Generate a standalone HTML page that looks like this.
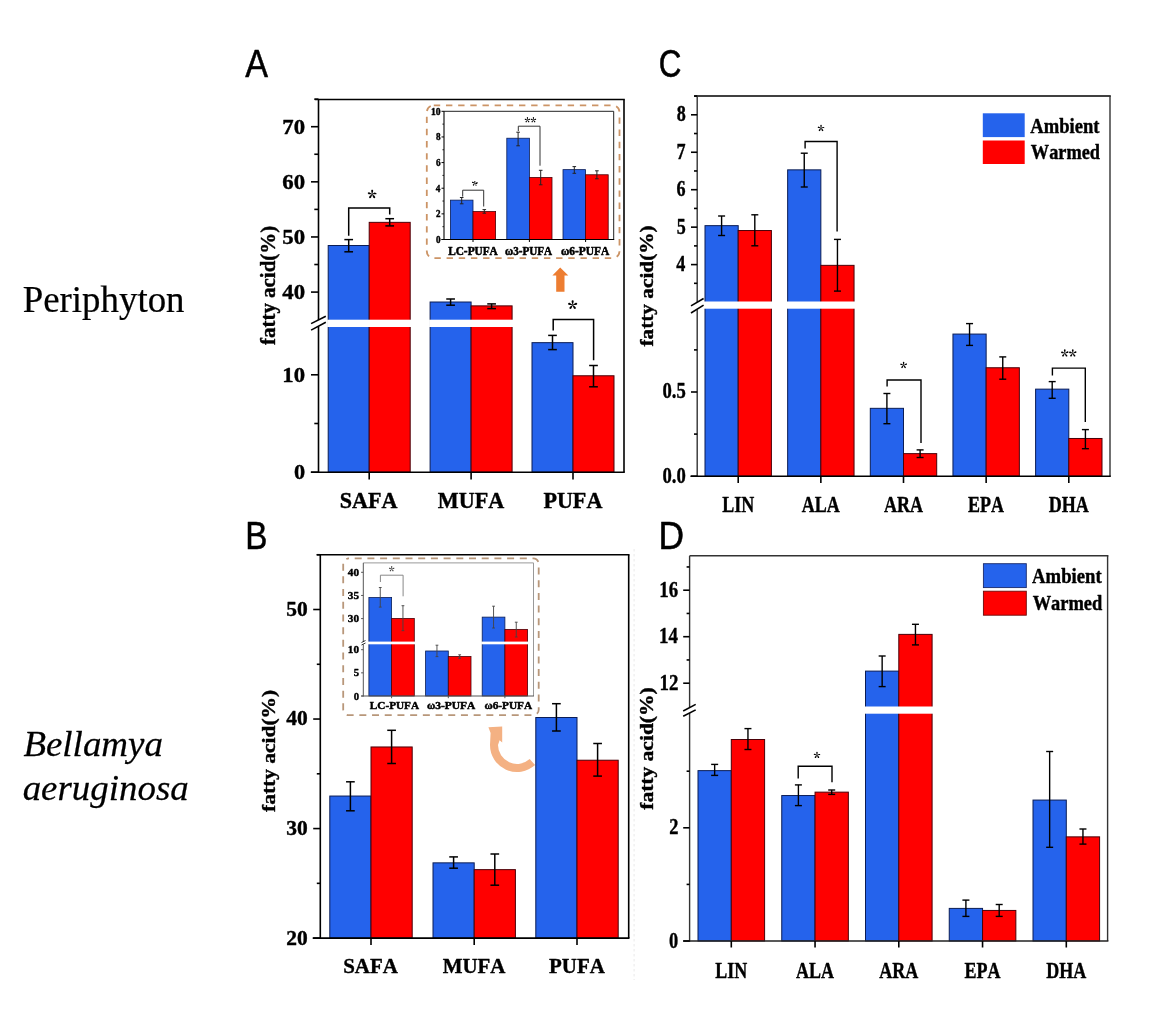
<!DOCTYPE html>
<html><head><meta charset="utf-8"><title>Fatty acid figure</title>
<style>
html,body{margin:0;padding:0;background:#fff;overflow:hidden;}
svg{display:block;will-change:transform;}
text{font-kerning:none;}
</style></head><body>
<svg width="1158" height="1019" viewBox="0 0 1158 1019">
<rect width="1158" height="1019" fill="#fff"/>
<text transform="translate(22.66,311.60) scale(0.9836,1)" font-size="37.5" font-weight="normal" font-style="normal" font-family='"Liberation Serif", serif' fill="#000" stroke="#000" stroke-width="0.25" stroke-linejoin="round">Periphyton</text>
<text transform="translate(23.38,755.50) scale(1.0099,1)" font-size="36.6" font-weight="normal" font-style="italic" font-family='"Liberation Serif", serif' fill="#000" stroke="#000" stroke-width="0.25" stroke-linejoin="round">Bellamya</text>
<text transform="translate(22.63,799.70) scale(1.0087,1)" font-size="36.6" font-weight="normal" font-style="italic" font-family='"Liberation Serif", serif' fill="#000" stroke="#000" stroke-width="0.25" stroke-linejoin="round">aeruginosa</text>
<text transform="translate(245.31,77.10) scale(0.8759,1)" font-size="39.0" font-weight="normal" font-style="normal" font-family='"Liberation Sans", sans-serif' fill="#000" stroke="#000" stroke-width="0.55" stroke-linejoin="round">A</text>
<text transform="translate(245.15,548.90) scale(0.8547,1)" font-size="38.8" font-weight="normal" font-style="normal" font-family='"Liberation Sans", sans-serif' fill="#000" stroke="#000" stroke-width="0.55" stroke-linejoin="round">B</text>
<text transform="translate(658.78,76.80) scale(0.8205,1)" font-size="38.2" font-weight="normal" font-style="normal" font-family='"Liberation Sans", sans-serif' fill="#000" stroke="#000" stroke-width="0.55" stroke-linejoin="round">C</text>
<text transform="translate(658.57,548.80) scale(0.9260,1)" font-size="38.2" font-weight="normal" font-style="normal" font-family='"Liberation Sans", sans-serif' fill="#000" stroke="#000" stroke-width="0.55" stroke-linejoin="round">D</text>
<rect x="328.20" y="245.51" width="41.00" height="226.69" fill="#2563EC" stroke="#0b1d55" stroke-width="1.0"/>
<rect x="369.20" y="222.35" width="41.00" height="249.85" fill="#FF0000" stroke="#4a0008" stroke-width="1.0"/>
<rect x="430.10" y="302.01" width="41.00" height="170.19" fill="#2563EC" stroke="#0b1d55" stroke-width="1.0"/>
<rect x="471.10" y="305.87" width="41.00" height="166.33" fill="#FF0000" stroke="#4a0008" stroke-width="1.0"/>
<rect x="532.00" y="342.66" width="41.00" height="129.54" fill="#2563EC" stroke="#0b1d55" stroke-width="1.0"/>
<rect x="573.00" y="375.77" width="41.00" height="96.43" fill="#FF0000" stroke="#4a0008" stroke-width="1.0"/>
<rect x="327.20" y="319.70" width="84.00" height="7.30" fill="#fff"/>
<rect x="429.10" y="319.70" width="84.00" height="7.30" fill="#fff"/>
<line x1="348.70" y1="239.60" x2="348.70" y2="251.80" stroke="#000" stroke-width="1.5" />
<line x1="344.35" y1="239.60" x2="353.05" y2="239.60" stroke="#000" stroke-width="1.5" />
<line x1="344.35" y1="251.80" x2="353.05" y2="251.80" stroke="#000" stroke-width="1.5" />
<line x1="389.70" y1="218.70" x2="389.70" y2="225.90" stroke="#000" stroke-width="1.5" />
<line x1="385.35" y1="218.70" x2="394.05" y2="218.70" stroke="#000" stroke-width="1.5" />
<line x1="385.35" y1="225.90" x2="394.05" y2="225.90" stroke="#000" stroke-width="1.5" />
<line x1="450.60" y1="299.00" x2="450.60" y2="305.20" stroke="#000" stroke-width="1.5" />
<line x1="446.25" y1="299.00" x2="454.95" y2="299.00" stroke="#000" stroke-width="1.5" />
<line x1="446.25" y1="305.20" x2="454.95" y2="305.20" stroke="#000" stroke-width="1.5" />
<line x1="491.60" y1="303.90" x2="491.60" y2="308.60" stroke="#000" stroke-width="1.5" />
<line x1="487.25" y1="303.90" x2="495.95" y2="303.90" stroke="#000" stroke-width="1.5" />
<line x1="487.25" y1="308.60" x2="495.95" y2="308.60" stroke="#000" stroke-width="1.5" />
<line x1="552.50" y1="335.40" x2="552.50" y2="349.60" stroke="#000" stroke-width="1.5" />
<line x1="548.15" y1="335.40" x2="556.85" y2="335.40" stroke="#000" stroke-width="1.5" />
<line x1="548.15" y1="349.60" x2="556.85" y2="349.60" stroke="#000" stroke-width="1.5" />
<line x1="593.50" y1="365.50" x2="593.50" y2="386.80" stroke="#000" stroke-width="1.5" />
<line x1="589.15" y1="365.50" x2="597.85" y2="365.50" stroke="#000" stroke-width="1.5" />
<line x1="589.15" y1="386.80" x2="597.85" y2="386.80" stroke="#000" stroke-width="1.5" />
<polyline points="348.70,235.70 348.70,208.00 389.70,208.00 389.70,214.50" fill="none" stroke="#000" stroke-width="1.5" stroke-linejoin="miter"/>
<polyline points="553.20,330.50 553.20,319.50 593.60,319.50 593.60,360.20" fill="none" stroke="#000" stroke-width="1.5" stroke-linejoin="miter"/>
<text x="367.62" y="205.85" font-size="19.11" font-weight="900" font-family="'Noto Serif CJK SC', serif" fill="#000">*</text>
<line x1="314.80" y1="99.50" x2="624.80" y2="99.50" stroke="#000" stroke-width="1.6" />
<line x1="624.00" y1="99.50" x2="624.00" y2="472.20" stroke="#000" stroke-width="1.6" />
<line x1="318.50" y1="99.50" x2="318.50" y2="319.90" stroke="#000" stroke-width="1.6" />
<line x1="318.50" y1="326.20" x2="318.50" y2="473.00" stroke="#000" stroke-width="1.6" />
<line x1="634.1" y1="549" x2="634.1" y2="980" stroke="#ececec" stroke-width="1.1" stroke-dasharray="2.5 2.5"/>
<line x1="310.80" y1="472.20" x2="624.80" y2="472.20" stroke="#000" stroke-width="1.6" />
<line x1="311.10" y1="323.60" x2="325.80" y2="316.30" stroke="#000" stroke-width="1.6" />
<line x1="311.10" y1="330.10" x2="325.80" y2="322.30" stroke="#000" stroke-width="1.6" />
<line x1="311.00" y1="292.09" x2="318.50" y2="292.09" stroke="#000" stroke-width="1.6" />
<line x1="311.00" y1="236.96" x2="318.50" y2="236.96" stroke="#000" stroke-width="1.6" />
<line x1="311.00" y1="181.83" x2="318.50" y2="181.83" stroke="#000" stroke-width="1.6" />
<line x1="311.00" y1="126.70" x2="318.50" y2="126.70" stroke="#000" stroke-width="1.6" />
<line x1="314.30" y1="264.52" x2="318.50" y2="264.52" stroke="#000" stroke-width="1.6" />
<line x1="314.30" y1="209.39" x2="318.50" y2="209.39" stroke="#000" stroke-width="1.6" />
<line x1="314.30" y1="154.26" x2="318.50" y2="154.26" stroke="#000" stroke-width="1.6" />
<line x1="314.30" y1="99.14" x2="318.50" y2="99.14" stroke="#000" stroke-width="1.6" />
<line x1="311.00" y1="472.20" x2="318.50" y2="472.20" stroke="#000" stroke-width="1.6" />
<line x1="311.00" y1="374.80" x2="318.50" y2="374.80" stroke="#000" stroke-width="1.6" />
<line x1="314.30" y1="423.50" x2="318.50" y2="423.50" stroke="#000" stroke-width="1.6" />
<line x1="369.20" y1="472.20" x2="369.20" y2="479.40" stroke="#000" stroke-width="1.6" />
<line x1="471.10" y1="472.20" x2="471.10" y2="479.40" stroke="#000" stroke-width="1.6" />
<line x1="573.00" y1="472.20" x2="573.00" y2="479.40" stroke="#000" stroke-width="1.6" />
<text transform="translate(282.28,299.09) scale(1.0358,1)" font-size="22" font-weight="bold" font-style="normal" font-family='"Liberation Serif", serif' fill="#000" stroke="#000" stroke-width="0.4" stroke-linejoin="round">40</text>
<text transform="translate(282.29,243.96) scale(1.0353,1)" font-size="22" font-weight="bold" font-style="normal" font-family='"Liberation Serif", serif' fill="#000" stroke="#000" stroke-width="0.4" stroke-linejoin="round">50</text>
<text transform="translate(282.29,188.83) scale(1.0354,1)" font-size="22" font-weight="bold" font-style="normal" font-family='"Liberation Serif", serif' fill="#000" stroke="#000" stroke-width="0.4" stroke-linejoin="round">60</text>
<text transform="translate(282.30,133.70) scale(1.0349,1)" font-size="22" font-weight="bold" font-style="normal" font-family='"Liberation Serif", serif' fill="#000" stroke="#000" stroke-width="0.4" stroke-linejoin="round">70</text>
<text transform="translate(282.31,381.80) scale(1.0344,1)" font-size="22" font-weight="bold" font-style="normal" font-family='"Liberation Serif", serif' fill="#000" stroke="#000" stroke-width="0.4" stroke-linejoin="round">10</text>
<text transform="translate(293.91,479.20) scale(1.0121,1)" font-size="22" font-weight="bold" font-style="normal" font-family='"Liberation Serif", serif' fill="#000" stroke="#000" stroke-width="0.4" stroke-linejoin="round">0</text>
<text transform="translate(339.81,508.00) scale(0.9830,1)" font-size="22.5" font-weight="bold" font-style="normal" font-family='"Liberation Serif", serif' fill="#000" stroke="#000" stroke-width="0.4" stroke-linejoin="round">SAFA</text>
<text transform="translate(437.79,508.00) scale(0.9840,1)" font-size="22.5" font-weight="bold" font-style="normal" font-family='"Liberation Serif", serif' fill="#000" stroke="#000" stroke-width="0.4" stroke-linejoin="round">MUFA</text>
<text transform="translate(543.40,508.00) scale(0.9833,1)" font-size="22.5" font-weight="bold" font-style="normal" font-family='"Liberation Serif", serif' fill="#000" stroke="#000" stroke-width="0.4" stroke-linejoin="round">PUFA</text>
<text transform="translate(275.00,344.95) rotate(-90) scale(1.0212,1)" font-size="20.5" font-weight="bold" font-style="normal" font-family='"Liberation Serif", serif' stroke="#000" stroke-width="0.4" stroke-linejoin="round">fatty acid(%)</text>
<text x="567.70" y="316.70" font-size="20.00" font-weight="900" font-family="'Noto Serif CJK SC', serif" fill="#000">*</text>
<polygon points="560.2,267.4 568.3,275.4 564.5,275.4 564.5,291.8 556.2,291.8 556.2,275.4 552.4,275.4" fill="#ED7D31"/>
<rect x="426.8" y="105.3" width="192.7" height="152.9" rx="7" ry="7" fill="none" stroke="#CC9466" stroke-width="1.8" stroke-dasharray="6.4 5.77"/>
<rect x="450.40" y="200.14" width="22.60" height="39.36" fill="#2563EC" stroke="#0b1d55" stroke-width="0.8"/>
<rect x="473.00" y="211.55" width="22.60" height="27.95" fill="#FF0000" stroke="#4a0008" stroke-width="0.8"/>
<rect x="506.80" y="138.22" width="22.60" height="101.28" fill="#2563EC" stroke="#0b1d55" stroke-width="0.8"/>
<rect x="529.40" y="177.45" width="22.60" height="62.05" fill="#FF0000" stroke="#4a0008" stroke-width="0.8"/>
<rect x="563.00" y="169.63" width="22.60" height="69.87" fill="#2563EC" stroke="#0b1d55" stroke-width="0.8"/>
<rect x="585.60" y="174.76" width="22.60" height="64.74" fill="#FF0000" stroke="#4a0008" stroke-width="0.8"/>
<line x1="461.70" y1="197.50" x2="461.70" y2="203.80" stroke="#222" stroke-width="1.0" />
<line x1="459.90" y1="197.50" x2="463.50" y2="197.50" stroke="#222" stroke-width="1.0" />
<line x1="459.90" y1="203.80" x2="463.50" y2="203.80" stroke="#222" stroke-width="1.0" />
<line x1="484.30" y1="209.60" x2="484.30" y2="213.20" stroke="#222" stroke-width="1.0" />
<line x1="482.50" y1="209.60" x2="486.10" y2="209.60" stroke="#222" stroke-width="1.0" />
<line x1="482.50" y1="213.20" x2="486.10" y2="213.20" stroke="#222" stroke-width="1.0" />
<line x1="518.10" y1="132.20" x2="518.10" y2="145.80" stroke="#222" stroke-width="1.0" />
<line x1="516.30" y1="132.20" x2="519.90" y2="132.20" stroke="#222" stroke-width="1.0" />
<line x1="516.30" y1="145.80" x2="519.90" y2="145.80" stroke="#222" stroke-width="1.0" />
<line x1="540.70" y1="170.30" x2="540.70" y2="184.80" stroke="#222" stroke-width="1.0" />
<line x1="538.90" y1="170.30" x2="542.50" y2="170.30" stroke="#222" stroke-width="1.0" />
<line x1="538.90" y1="184.80" x2="542.50" y2="184.80" stroke="#222" stroke-width="1.0" />
<line x1="574.30" y1="166.60" x2="574.30" y2="173.30" stroke="#222" stroke-width="1.0" />
<line x1="572.50" y1="166.60" x2="576.10" y2="166.60" stroke="#222" stroke-width="1.0" />
<line x1="572.50" y1="173.30" x2="576.10" y2="173.30" stroke="#222" stroke-width="1.0" />
<line x1="596.90" y1="170.80" x2="596.90" y2="178.80" stroke="#222" stroke-width="1.0" />
<line x1="595.10" y1="170.80" x2="598.70" y2="170.80" stroke="#222" stroke-width="1.0" />
<line x1="595.10" y1="178.80" x2="598.70" y2="178.80" stroke="#222" stroke-width="1.0" />
<polyline points="462.70,196.60 462.70,190.20 483.70,190.20 483.70,206.50" fill="none" stroke="#333" stroke-width="1.0" stroke-linejoin="miter"/>
<polyline points="518.30,131.00 518.30,126.20 540.00,126.20 540.00,165.70" fill="none" stroke="#333" stroke-width="1.0" stroke-linejoin="miter"/>
<text x="471.75" y="191.25" font-size="12.44" font-weight="900" font-family="'Noto Serif CJK SC', serif" fill="#000">*</text>
<text x="524.62" y="127.48" font-size="12.00" font-weight="900" font-family="'Noto Serif CJK SC', serif" fill="#000">**</text>
<line x1="444.00" y1="111.30" x2="613.70" y2="111.30" stroke="#222" stroke-width="1.0" />
<line x1="613.70" y1="111.30" x2="613.70" y2="239.50" stroke="#222" stroke-width="1.0" />
<line x1="444.00" y1="111.30" x2="444.00" y2="240.00" stroke="#000" stroke-width="1.1" />
<line x1="441.50" y1="239.50" x2="614.20" y2="239.50" stroke="#000" stroke-width="1.2" />
<line x1="441.50" y1="239.50" x2="444.00" y2="239.50" stroke="#000" stroke-width="1.0" />
<text transform="translate(435.98,242.80) scale(0.9517,1)" font-size="9.6" font-weight="bold" font-style="normal" font-family='"Liberation Serif", serif' fill="#000" stroke="#000" stroke-width="0.4" stroke-linejoin="round">0</text>
<line x1="441.50" y1="213.86" x2="444.00" y2="213.86" stroke="#000" stroke-width="1.0" />
<text transform="translate(436.03,217.16) scale(0.9496,1)" font-size="9.6" font-weight="bold" font-style="normal" font-family='"Liberation Serif", serif' fill="#000" stroke="#000" stroke-width="0.4" stroke-linejoin="round">2</text>
<line x1="441.50" y1="188.22" x2="444.00" y2="188.22" stroke="#000" stroke-width="1.0" />
<text transform="translate(435.76,191.52) scale(0.9609,1)" font-size="9.6" font-weight="bold" font-style="normal" font-family='"Liberation Serif", serif' fill="#000" stroke="#000" stroke-width="0.4" stroke-linejoin="round">4</text>
<line x1="441.50" y1="162.58" x2="444.00" y2="162.58" stroke="#000" stroke-width="1.0" />
<text transform="translate(435.89,165.88) scale(0.9545,1)" font-size="9.6" font-weight="bold" font-style="normal" font-family='"Liberation Serif", serif' fill="#000" stroke="#000" stroke-width="0.4" stroke-linejoin="round">6</text>
<line x1="441.50" y1="136.94" x2="444.00" y2="136.94" stroke="#000" stroke-width="1.0" />
<text transform="translate(435.93,140.24) scale(0.9539,1)" font-size="9.6" font-weight="bold" font-style="normal" font-family='"Liberation Serif", serif' fill="#000" stroke="#000" stroke-width="0.4" stroke-linejoin="round">8</text>
<line x1="441.50" y1="111.30" x2="444.00" y2="111.30" stroke="#000" stroke-width="1.0" />
<text transform="translate(430.94,114.60) scale(1.0028,1)" font-size="9.6" font-weight="bold" font-style="normal" font-family='"Liberation Serif", serif' fill="#000" stroke="#000" stroke-width="0.4" stroke-linejoin="round">10</text>
<line x1="442.40" y1="226.68" x2="444.00" y2="226.68" stroke="#000" stroke-width="0.8" />
<line x1="442.40" y1="201.04" x2="444.00" y2="201.04" stroke="#000" stroke-width="0.8" />
<line x1="442.40" y1="175.40" x2="444.00" y2="175.40" stroke="#000" stroke-width="0.8" />
<line x1="442.40" y1="149.76" x2="444.00" y2="149.76" stroke="#000" stroke-width="0.8" />
<line x1="442.40" y1="124.12" x2="444.00" y2="124.12" stroke="#000" stroke-width="0.8" />
<line x1="473.00" y1="239.50" x2="473.00" y2="242.00" stroke="#000" stroke-width="1.0" />
<line x1="529.40" y1="239.50" x2="529.40" y2="242.00" stroke="#000" stroke-width="1.0" />
<line x1="585.60" y1="239.50" x2="585.60" y2="242.00" stroke="#000" stroke-width="1.0" />
<text transform="translate(448.16,255.40) scale(0.9594,1)" font-size="11.8" font-weight="bold" font-style="normal" font-family='"Liberation Serif", serif' fill="#000" stroke="#000" stroke-width="0.5" stroke-linejoin="round">LC-PUFA</text>
<text transform="translate(505.00,255.40) scale(0.9463,1)" font-size="11.8" font-weight="bold" font-style="normal" font-family='"Liberation Serif", serif' fill="#000" stroke="#000" stroke-width="0.5" stroke-linejoin="round">ω3-PUFA</text>
<text transform="translate(560.89,255.40) scale(0.9706,1)" font-size="11.8" font-weight="bold" font-style="normal" font-family='"Liberation Serif", serif' fill="#000" stroke="#000" stroke-width="0.5" stroke-linejoin="round">ω6-PUFA</text>
<rect x="329.80" y="796.04" width="41.20" height="142.06" fill="#2563EC" stroke="#0b1d55" stroke-width="1.0"/>
<rect x="371.00" y="746.97" width="41.20" height="191.13" fill="#FF0000" stroke="#4a0008" stroke-width="1.0"/>
<rect x="433.00" y="862.85" width="41.20" height="75.25" fill="#2563EC" stroke="#0b1d55" stroke-width="1.0"/>
<rect x="474.20" y="869.64" width="41.20" height="68.46" fill="#FF0000" stroke="#4a0008" stroke-width="1.0"/>
<rect x="535.80" y="717.51" width="41.20" height="220.59" fill="#2563EC" stroke="#0b1d55" stroke-width="1.0"/>
<rect x="577.00" y="760.22" width="41.20" height="177.88" fill="#FF0000" stroke="#4a0008" stroke-width="1.0"/>
<line x1="350.40" y1="781.80" x2="350.40" y2="810.80" stroke="#000" stroke-width="1.5" />
<line x1="346.05" y1="781.80" x2="354.75" y2="781.80" stroke="#000" stroke-width="1.5" />
<line x1="346.05" y1="810.80" x2="354.75" y2="810.80" stroke="#000" stroke-width="1.5" />
<line x1="391.60" y1="730.30" x2="391.60" y2="763.50" stroke="#000" stroke-width="1.5" />
<line x1="387.25" y1="730.30" x2="395.95" y2="730.30" stroke="#000" stroke-width="1.5" />
<line x1="387.25" y1="763.50" x2="395.95" y2="763.50" stroke="#000" stroke-width="1.5" />
<line x1="453.60" y1="856.90" x2="453.60" y2="868.20" stroke="#000" stroke-width="1.5" />
<line x1="449.25" y1="856.90" x2="457.95" y2="856.90" stroke="#000" stroke-width="1.5" />
<line x1="449.25" y1="868.20" x2="457.95" y2="868.20" stroke="#000" stroke-width="1.5" />
<line x1="494.80" y1="854.00" x2="494.80" y2="885.20" stroke="#000" stroke-width="1.5" />
<line x1="490.45" y1="854.00" x2="499.15" y2="854.00" stroke="#000" stroke-width="1.5" />
<line x1="490.45" y1="885.20" x2="499.15" y2="885.20" stroke="#000" stroke-width="1.5" />
<line x1="556.40" y1="703.70" x2="556.40" y2="731.00" stroke="#000" stroke-width="1.5" />
<line x1="552.05" y1="703.70" x2="560.75" y2="703.70" stroke="#000" stroke-width="1.5" />
<line x1="552.05" y1="731.00" x2="560.75" y2="731.00" stroke="#000" stroke-width="1.5" />
<line x1="597.60" y1="743.50" x2="597.60" y2="776.10" stroke="#000" stroke-width="1.5" />
<line x1="593.25" y1="743.50" x2="601.95" y2="743.50" stroke="#000" stroke-width="1.5" />
<line x1="593.25" y1="776.10" x2="601.95" y2="776.10" stroke="#000" stroke-width="1.5" />
<line x1="316.60" y1="554.80" x2="629.50" y2="554.80" stroke="#000" stroke-width="1.6" />
<line x1="628.70" y1="554.80" x2="628.70" y2="938.10" stroke="#000" stroke-width="1.6" />
<line x1="320.30" y1="554.80" x2="320.30" y2="938.90" stroke="#000" stroke-width="1.6" />
<line x1="312.70" y1="938.10" x2="629.50" y2="938.10" stroke="#000" stroke-width="1.6" />
<line x1="313.20" y1="938.10" x2="320.30" y2="938.10" stroke="#000" stroke-width="1.6" />
<text transform="translate(286.15,944.50) scale(1.0223,1)" font-size="21" font-weight="bold" font-style="normal" font-family='"Liberation Serif", serif' fill="#000" stroke="#000" stroke-width="0.4" stroke-linejoin="round">20</text>
<line x1="313.20" y1="828.57" x2="320.30" y2="828.57" stroke="#000" stroke-width="1.6" />
<text transform="translate(286.15,834.97) scale(1.0224,1)" font-size="21" font-weight="bold" font-style="normal" font-family='"Liberation Serif", serif' fill="#000" stroke="#000" stroke-width="0.4" stroke-linejoin="round">30</text>
<line x1="313.20" y1="719.04" x2="320.30" y2="719.04" stroke="#000" stroke-width="1.6" />
<text transform="translate(286.14,725.44) scale(1.0229,1)" font-size="21" font-weight="bold" font-style="normal" font-family='"Liberation Serif", serif' fill="#000" stroke="#000" stroke-width="0.4" stroke-linejoin="round">40</text>
<line x1="313.20" y1="609.51" x2="320.30" y2="609.51" stroke="#000" stroke-width="1.6" />
<text transform="translate(286.15,615.91) scale(1.0223,1)" font-size="21" font-weight="bold" font-style="normal" font-family='"Liberation Serif", serif' fill="#000" stroke="#000" stroke-width="0.4" stroke-linejoin="round">50</text>
<line x1="316.80" y1="883.34" x2="320.30" y2="883.34" stroke="#000" stroke-width="1.6" />
<line x1="316.80" y1="773.81" x2="320.30" y2="773.81" stroke="#000" stroke-width="1.6" />
<line x1="316.80" y1="664.28" x2="320.30" y2="664.28" stroke="#000" stroke-width="1.6" />
<line x1="316.80" y1="554.75" x2="320.30" y2="554.75" stroke="#000" stroke-width="1.6" />
<line x1="371.00" y1="938.10" x2="371.00" y2="945.00" stroke="#000" stroke-width="1.6" />
<line x1="474.20" y1="938.10" x2="474.20" y2="945.00" stroke="#000" stroke-width="1.6" />
<line x1="577.00" y1="938.10" x2="577.00" y2="945.00" stroke="#000" stroke-width="1.6" />
<text transform="translate(343.20,972.60) scale(0.9687,1)" font-size="21.6" font-weight="bold" font-style="normal" font-family='"Liberation Serif", serif' fill="#000" stroke="#000" stroke-width="0.4" stroke-linejoin="round">SAFA</text>
<text transform="translate(442.69,972.60) scale(0.9698,1)" font-size="21.6" font-weight="bold" font-style="normal" font-family='"Liberation Serif", serif' fill="#000" stroke="#000" stroke-width="0.4" stroke-linejoin="round">MUFA</text>
<text transform="translate(549.00,972.60) scale(0.9690,1)" font-size="21.6" font-weight="bold" font-style="normal" font-family='"Liberation Serif", serif' fill="#000" stroke="#000" stroke-width="0.4" stroke-linejoin="round">PUFA</text>
<text transform="translate(274.60,811.96) rotate(-90) scale(1.1666,1)" font-size="18.4" font-weight="bold" font-style="normal" font-family='"Liberation Serif", serif' stroke="#000" stroke-width="0.4" stroke-linejoin="round">fatty acid(%)</text>
<rect x="343.2" y="558.4" width="195.5" height="156.8" rx="5.5" ry="5.5" fill="#fff" stroke="#B8977A" stroke-width="1.8" stroke-dasharray="7 5.7" stroke-dashoffset="6.7"/>
<rect x="368.90" y="597.49" width="22.70" height="98.51" fill="#2563EC" stroke="#0b1d55" stroke-width="0.8"/>
<rect x="391.60" y="618.41" width="22.70" height="77.59" fill="#FF0000" stroke="#4a0008" stroke-width="0.8"/>
<rect x="425.60" y="651.00" width="22.70" height="45.00" fill="#2563EC" stroke="#0b1d55" stroke-width="0.8"/>
<rect x="448.30" y="656.51" width="22.70" height="39.49" fill="#FF0000" stroke="#4a0008" stroke-width="0.8"/>
<rect x="482.20" y="617.12" width="22.70" height="78.88" fill="#2563EC" stroke="#0b1d55" stroke-width="0.8"/>
<rect x="504.90" y="629.39" width="22.70" height="66.61" fill="#FF0000" stroke="#4a0008" stroke-width="0.8"/>
<rect x="367.90" y="641.60" width="47.40" height="2.70" fill="#fff"/>
<rect x="481.20" y="641.60" width="47.40" height="2.70" fill="#fff"/>
<line x1="380.25" y1="587.50" x2="380.25" y2="607.10" stroke="#444" stroke-width="0.9" />
<line x1="378.85" y1="587.50" x2="381.65" y2="587.50" stroke="#444" stroke-width="0.9" />
<line x1="378.85" y1="607.10" x2="381.65" y2="607.10" stroke="#444" stroke-width="0.9" />
<line x1="402.95" y1="605.70" x2="402.95" y2="630.70" stroke="#444" stroke-width="0.9" />
<line x1="401.55" y1="605.70" x2="404.35" y2="605.70" stroke="#444" stroke-width="0.9" />
<line x1="401.55" y1="630.70" x2="404.35" y2="630.70" stroke="#444" stroke-width="0.9" />
<line x1="436.95" y1="645.20" x2="436.95" y2="656.60" stroke="#444" stroke-width="0.9" />
<line x1="435.55" y1="645.20" x2="438.35" y2="645.20" stroke="#444" stroke-width="0.9" />
<line x1="435.55" y1="656.60" x2="438.35" y2="656.60" stroke="#444" stroke-width="0.9" />
<line x1="459.65" y1="654.80" x2="459.65" y2="658.30" stroke="#444" stroke-width="0.9" />
<line x1="458.25" y1="654.80" x2="461.05" y2="654.80" stroke="#444" stroke-width="0.9" />
<line x1="458.25" y1="658.30" x2="461.05" y2="658.30" stroke="#444" stroke-width="0.9" />
<line x1="493.55" y1="606.20" x2="493.55" y2="628.00" stroke="#444" stroke-width="0.9" />
<line x1="492.15" y1="606.20" x2="494.95" y2="606.20" stroke="#444" stroke-width="0.9" />
<line x1="492.15" y1="628.00" x2="494.95" y2="628.00" stroke="#444" stroke-width="0.9" />
<line x1="516.25" y1="622.20" x2="516.25" y2="637.00" stroke="#444" stroke-width="0.9" />
<line x1="514.85" y1="622.20" x2="517.65" y2="622.20" stroke="#444" stroke-width="0.9" />
<line x1="514.85" y1="637.00" x2="517.65" y2="637.00" stroke="#444" stroke-width="0.9" />
<polyline points="380.40,582.00 380.40,575.20 403.10,575.20 403.10,596.30" fill="none" stroke="#888" stroke-width="1.0" stroke-linejoin="miter"/>
<text x="388.66" y="576.48" font-size="12.00" font-weight="900" font-family="'Noto Serif CJK SC', serif" fill="#444">*</text>
<line x1="363.30" y1="562.90" x2="533.50" y2="562.90" stroke="#999" stroke-width="1.0" />
<line x1="533.50" y1="562.90" x2="533.50" y2="696.00" stroke="#999" stroke-width="1.0" />
<line x1="363.30" y1="562.90" x2="363.30" y2="641.50" stroke="#555" stroke-width="1.0" />
<line x1="363.30" y1="644.50" x2="363.30" y2="696.50" stroke="#555" stroke-width="1.0" />
<line x1="361.30" y1="696.00" x2="534.00" y2="696.00" stroke="#555" stroke-width="1.0" />
<line x1="361.50" y1="642.50" x2="365.50" y2="640.50" stroke="#000" stroke-width="0.8" />
<line x1="361.50" y1="645.00" x2="365.50" y2="643.00" stroke="#000" stroke-width="0.8" />
<line x1="361.10" y1="572.30" x2="363.30" y2="572.30" stroke="#555" stroke-width="1.0" />
<text transform="translate(347.80,575.90) scale(1.0794,1)" font-size="10.4" font-weight="bold" font-style="normal" font-family='"Liberation Serif", serif' fill="#000" stroke="#000" stroke-width="0.4" stroke-linejoin="round">40</text>
<line x1="361.10" y1="595.45" x2="363.30" y2="595.45" stroke="#555" stroke-width="1.0" />
<text transform="translate(347.79,599.05) scale(1.0785,1)" font-size="10.4" font-weight="bold" font-style="normal" font-family='"Liberation Serif", serif' fill="#000" stroke="#000" stroke-width="0.4" stroke-linejoin="round">35</text>
<line x1="361.10" y1="618.60" x2="363.30" y2="618.60" stroke="#555" stroke-width="1.0" />
<text transform="translate(347.81,622.20) scale(1.0784,1)" font-size="10.4" font-weight="bold" font-style="normal" font-family='"Liberation Serif", serif' fill="#000" stroke="#000" stroke-width="0.4" stroke-linejoin="round">30</text>
<line x1="361.10" y1="649.70" x2="363.30" y2="649.70" stroke="#555" stroke-width="1.0" />
<text transform="translate(347.83,653.30) scale(1.0764,1)" font-size="10.4" font-weight="bold" font-style="normal" font-family='"Liberation Serif", serif' fill="#000" stroke="#000" stroke-width="0.4" stroke-linejoin="round">10</text>
<line x1="361.10" y1="672.85" x2="363.30" y2="672.85" stroke="#555" stroke-width="1.0" />
<text transform="translate(353.64,676.45) scale(1.0291,1)" font-size="10.4" font-weight="bold" font-style="normal" font-family='"Liberation Serif", serif' fill="#000" stroke="#000" stroke-width="0.4" stroke-linejoin="round">5</text>
<line x1="361.10" y1="696.00" x2="363.30" y2="696.00" stroke="#555" stroke-width="1.0" />
<text transform="translate(353.66,699.60) scale(1.0293,1)" font-size="10.4" font-weight="bold" font-style="normal" font-family='"Liberation Serif", serif' fill="#000" stroke="#000" stroke-width="0.4" stroke-linejoin="round">0</text>
<line x1="391.60" y1="696.00" x2="391.60" y2="698.20" stroke="#555" stroke-width="1.0" />
<line x1="448.30" y1="696.00" x2="448.30" y2="698.20" stroke="#555" stroke-width="1.0" />
<line x1="504.90" y1="696.00" x2="504.90" y2="698.20" stroke="#555" stroke-width="1.0" />
<text transform="translate(369.86,709.00) scale(0.9850,1)" font-size="11.4" font-weight="bold" font-style="normal" font-family='"Liberation Serif", serif' fill="#000" stroke="#000" stroke-width="0.5" stroke-linejoin="round">LC-PUFA</text>
<text transform="translate(426.88,709.00) scale(1.0068,1)" font-size="11.4" font-weight="bold" font-style="normal" font-family='"Liberation Serif", serif' fill="#000" stroke="#000" stroke-width="0.5" stroke-linejoin="round">ω3-PUFA</text>
<text transform="translate(484.39,709.00) scale(0.9900,1)" font-size="11.4" font-weight="bold" font-style="normal" font-family='"Liberation Serif", serif' fill="#000" stroke="#000" stroke-width="0.5" stroke-linejoin="round">ω6-PUFA</text>
<path d="M 535.1 765.1 A 27 27 0 0 1 490 745 L 490.6 733 L 488.4 727.3 L 502.2 726.5 L 502.2 742.6 L 499.6 740.2 L 498 745 A 19 19 0 0 0 529.7 759.1 Z" fill="#F4B183"/>
<rect x="705.00" y="225.65" width="33.20" height="250.55" fill="#2563EC" stroke="#0b1d55" stroke-width="1.0"/>
<rect x="738.20" y="230.52" width="33.20" height="245.68" fill="#FF0000" stroke="#4a0008" stroke-width="1.0"/>
<rect x="787.65" y="169.85" width="33.20" height="306.35" fill="#2563EC" stroke="#0b1d55" stroke-width="1.0"/>
<rect x="820.85" y="265.35" width="33.20" height="210.85" fill="#FF0000" stroke="#4a0008" stroke-width="1.0"/>
<rect x="870.30" y="408.33" width="33.20" height="67.87" fill="#2563EC" stroke="#0b1d55" stroke-width="1.0"/>
<rect x="903.50" y="453.63" width="33.20" height="22.57" fill="#FF0000" stroke="#4a0008" stroke-width="1.0"/>
<rect x="952.95" y="334.07" width="33.20" height="142.13" fill="#2563EC" stroke="#0b1d55" stroke-width="1.0"/>
<rect x="986.15" y="367.75" width="33.20" height="108.45" fill="#FF0000" stroke="#4a0008" stroke-width="1.0"/>
<rect x="1035.60" y="389.14" width="33.20" height="87.06" fill="#2563EC" stroke="#0b1d55" stroke-width="1.0"/>
<rect x="1068.80" y="438.48" width="33.20" height="37.72" fill="#FF0000" stroke="#4a0008" stroke-width="1.0"/>
<rect x="704.00" y="301.50" width="68.40" height="7.20" fill="#fff"/>
<rect x="786.65" y="301.50" width="68.40" height="7.20" fill="#fff"/>
<line x1="721.60" y1="216.00" x2="721.60" y2="235.50" stroke="#000" stroke-width="1.4" />
<line x1="718.10" y1="216.00" x2="725.10" y2="216.00" stroke="#000" stroke-width="1.4" />
<line x1="718.10" y1="235.50" x2="725.10" y2="235.50" stroke="#000" stroke-width="1.4" />
<line x1="754.80" y1="214.80" x2="754.80" y2="245.80" stroke="#000" stroke-width="1.4" />
<line x1="751.30" y1="214.80" x2="758.30" y2="214.80" stroke="#000" stroke-width="1.4" />
<line x1="751.30" y1="245.80" x2="758.30" y2="245.80" stroke="#000" stroke-width="1.4" />
<line x1="804.25" y1="153.20" x2="804.25" y2="187.00" stroke="#000" stroke-width="1.4" />
<line x1="800.75" y1="153.20" x2="807.75" y2="153.20" stroke="#000" stroke-width="1.4" />
<line x1="800.75" y1="187.00" x2="807.75" y2="187.00" stroke="#000" stroke-width="1.4" />
<line x1="837.45" y1="239.40" x2="837.45" y2="291.10" stroke="#000" stroke-width="1.4" />
<line x1="833.95" y1="239.40" x2="840.95" y2="239.40" stroke="#000" stroke-width="1.4" />
<line x1="833.95" y1="291.10" x2="840.95" y2="291.10" stroke="#000" stroke-width="1.4" />
<line x1="886.90" y1="393.50" x2="886.90" y2="423.70" stroke="#000" stroke-width="1.4" />
<line x1="883.40" y1="393.50" x2="890.40" y2="393.50" stroke="#000" stroke-width="1.4" />
<line x1="883.40" y1="423.70" x2="890.40" y2="423.70" stroke="#000" stroke-width="1.4" />
<line x1="920.10" y1="449.90" x2="920.10" y2="457.50" stroke="#000" stroke-width="1.4" />
<line x1="916.60" y1="449.90" x2="923.60" y2="449.90" stroke="#000" stroke-width="1.4" />
<line x1="916.60" y1="457.50" x2="923.60" y2="457.50" stroke="#000" stroke-width="1.4" />
<line x1="969.55" y1="323.60" x2="969.55" y2="345.40" stroke="#000" stroke-width="1.4" />
<line x1="966.05" y1="323.60" x2="973.05" y2="323.60" stroke="#000" stroke-width="1.4" />
<line x1="966.05" y1="345.40" x2="973.05" y2="345.40" stroke="#000" stroke-width="1.4" />
<line x1="1002.75" y1="356.90" x2="1002.75" y2="379.20" stroke="#000" stroke-width="1.4" />
<line x1="999.25" y1="356.90" x2="1006.25" y2="356.90" stroke="#000" stroke-width="1.4" />
<line x1="999.25" y1="379.20" x2="1006.25" y2="379.20" stroke="#000" stroke-width="1.4" />
<line x1="1052.20" y1="381.60" x2="1052.20" y2="398.30" stroke="#000" stroke-width="1.4" />
<line x1="1048.70" y1="381.60" x2="1055.70" y2="381.60" stroke="#000" stroke-width="1.4" />
<line x1="1048.70" y1="398.30" x2="1055.70" y2="398.30" stroke="#000" stroke-width="1.4" />
<line x1="1085.40" y1="429.60" x2="1085.40" y2="448.70" stroke="#000" stroke-width="1.4" />
<line x1="1081.90" y1="429.60" x2="1088.90" y2="429.60" stroke="#000" stroke-width="1.4" />
<line x1="1081.90" y1="448.70" x2="1088.90" y2="448.70" stroke="#000" stroke-width="1.4" />
<polyline points="805.10,148.40 805.10,141.50 837.10,141.50 837.10,231.60" fill="none" stroke="#000" stroke-width="1.4" stroke-linejoin="miter"/>
<polyline points="887.10,386.40 887.10,380.00 921.00,380.00 921.00,443.00" fill="none" stroke="#000" stroke-width="1.4" stroke-linejoin="miter"/>
<polyline points="1052.40,375.50 1052.40,368.10 1085.30,368.10 1085.30,422.00" fill="none" stroke="#000" stroke-width="1.4" stroke-linejoin="miter"/>
<text x="817.46" y="136.83" font-size="14.44" font-weight="900" font-family="'Noto Serif CJK SC', serif" fill="#000">*</text>
<text x="900.11" y="373.72" font-size="14.67" font-weight="900" font-family="'Noto Serif CJK SC', serif" fill="#000">*</text>
<text x="1060.64" y="362.71" font-size="16.44" font-weight="900" font-family="'Noto Serif CJK SC', serif" fill="#000">**</text>
<line x1="694.20" y1="96.00" x2="1110.80" y2="96.00" stroke="#000" stroke-width="1.6" />
<line x1="1110.00" y1="96.00" x2="1110.00" y2="476.20" stroke="#333" stroke-width="1.4" />
<line x1="697.20" y1="96.00" x2="697.20" y2="302.00" stroke="#333" stroke-width="1.4" />
<line x1="697.20" y1="309.50" x2="697.20" y2="477.00" stroke="#333" stroke-width="1.4" />
<line x1="690.40" y1="476.20" x2="1110.80" y2="476.20" stroke="#000" stroke-width="1.6" />
<line x1="691.00" y1="305.90" x2="703.60" y2="298.50" stroke="#000" stroke-width="1.6" />
<line x1="691.00" y1="313.00" x2="703.60" y2="305.10" stroke="#000" stroke-width="1.6" />
<line x1="691.00" y1="264.60" x2="697.20" y2="264.60" stroke="#000" stroke-width="1.6" />
<text transform="translate(676.34,271.00) scale(0.8118,1)" font-size="22.4" font-weight="bold" font-style="normal" font-family='"Liberation Serif", serif' fill="#000" stroke="#000" stroke-width="0.4" stroke-linejoin="round">4</text>
<line x1="691.00" y1="227.15" x2="697.20" y2="227.15" stroke="#000" stroke-width="1.6" />
<text transform="translate(676.72,233.55) scale(0.8078,1)" font-size="22.4" font-weight="bold" font-style="normal" font-family='"Liberation Serif", serif' fill="#000" stroke="#000" stroke-width="0.4" stroke-linejoin="round">5</text>
<line x1="691.00" y1="189.70" x2="697.20" y2="189.70" stroke="#000" stroke-width="1.6" />
<text transform="translate(676.57,196.10) scale(0.8091,1)" font-size="22.4" font-weight="bold" font-style="normal" font-family='"Liberation Serif", serif' fill="#000" stroke="#000" stroke-width="0.4" stroke-linejoin="round">6</text>
<line x1="691.00" y1="152.25" x2="697.20" y2="152.25" stroke="#000" stroke-width="1.6" />
<text transform="translate(676.50,158.65) scale(0.8073,1)" font-size="22.4" font-weight="bold" font-style="normal" font-family='"Liberation Serif", serif' fill="#000" stroke="#000" stroke-width="0.4" stroke-linejoin="round">7</text>
<line x1="691.00" y1="114.80" x2="697.20" y2="114.80" stroke="#000" stroke-width="1.6" />
<text transform="translate(676.64,121.20) scale(0.8088,1)" font-size="22.4" font-weight="bold" font-style="normal" font-family='"Liberation Serif", serif' fill="#000" stroke="#000" stroke-width="0.4" stroke-linejoin="round">8</text>
<line x1="694.00" y1="283.32" x2="697.20" y2="283.32" stroke="#000" stroke-width="1.6" />
<line x1="694.00" y1="245.88" x2="697.20" y2="245.88" stroke="#000" stroke-width="1.6" />
<line x1="694.00" y1="208.43" x2="697.20" y2="208.43" stroke="#000" stroke-width="1.6" />
<line x1="694.00" y1="170.97" x2="697.20" y2="170.97" stroke="#000" stroke-width="1.6" />
<line x1="694.00" y1="133.53" x2="697.20" y2="133.53" stroke="#000" stroke-width="1.6" />
<line x1="694.00" y1="96.07" x2="697.20" y2="96.07" stroke="#000" stroke-width="1.6" />
<line x1="691.00" y1="476.20" x2="697.20" y2="476.20" stroke="#000" stroke-width="1.6" />
<text transform="translate(662.44,482.60) scale(0.8348,1)" font-size="22.4" font-weight="bold" font-style="normal" font-family='"Liberation Serif", serif' fill="#000" stroke="#000" stroke-width="0.4" stroke-linejoin="round">0.0</text>
<line x1="691.00" y1="392.00" x2="697.20" y2="392.00" stroke="#000" stroke-width="1.6" />
<text transform="translate(662.41,398.40) scale(0.8348,1)" font-size="22.4" font-weight="bold" font-style="normal" font-family='"Liberation Serif", serif' fill="#000" stroke="#000" stroke-width="0.4" stroke-linejoin="round">0.5</text>
<line x1="694.00" y1="434.10" x2="697.20" y2="434.10" stroke="#000" stroke-width="1.6" />
<line x1="694.00" y1="349.90" x2="697.20" y2="349.90" stroke="#000" stroke-width="1.6" />
<line x1="738.20" y1="476.20" x2="738.20" y2="483.00" stroke="#000" stroke-width="1.6" />
<line x1="820.85" y1="476.20" x2="820.85" y2="483.00" stroke="#000" stroke-width="1.6" />
<line x1="903.50" y1="476.20" x2="903.50" y2="483.00" stroke="#000" stroke-width="1.6" />
<line x1="986.15" y1="476.20" x2="986.15" y2="483.00" stroke="#000" stroke-width="1.6" />
<line x1="1068.80" y1="476.20" x2="1068.80" y2="483.00" stroke="#000" stroke-width="1.6" />
<text transform="translate(722.16,512.00) scale(0.7998,1)" font-size="22.5" font-weight="bold" font-style="normal" font-family='"Liberation Serif", serif' fill="#000" stroke="#000" stroke-width="0.4" stroke-linejoin="round">LIN</text>
<text transform="translate(801.79,512.00) scale(0.8015,1)" font-size="22.5" font-weight="bold" font-style="normal" font-family='"Liberation Serif", serif' fill="#000" stroke="#000" stroke-width="0.4" stroke-linejoin="round">ALA</text>
<text transform="translate(883.94,512.00) scale(0.8017,1)" font-size="22.5" font-weight="bold" font-style="normal" font-family='"Liberation Serif", serif' fill="#000" stroke="#000" stroke-width="0.4" stroke-linejoin="round">ARA</text>
<text transform="translate(968.04,512.00) scale(0.8010,1)" font-size="22.5" font-weight="bold" font-style="normal" font-family='"Liberation Serif", serif' fill="#000" stroke="#000" stroke-width="0.4" stroke-linejoin="round">EPA</text>
<text transform="translate(1048.66,512.00) scale(0.8019,1)" font-size="22.5" font-weight="bold" font-style="normal" font-family='"Liberation Serif", serif' fill="#000" stroke="#000" stroke-width="0.4" stroke-linejoin="round">DHA</text>
<rect x="982.80" y="113.30" width="41.90" height="23.80" fill="#2563EC"/>
<rect x="982.80" y="140.50" width="41.90" height="23.50" fill="#FF0000"/>
<text transform="translate(1030.22,132.50) scale(0.8861,1)" font-size="21.0" font-weight="bold" font-style="normal" font-family='"Liberation Serif", serif' fill="#000" stroke="#000" stroke-width="0.4" stroke-linejoin="round">Ambient</text>
<text transform="translate(1030.84,159.40) scale(0.8720,1)" font-size="21.0" font-weight="bold" font-style="normal" font-family='"Liberation Serif", serif' fill="#000" stroke="#000" stroke-width="0.4" stroke-linejoin="round">Warmed</text>
<text transform="translate(653.00,346.56) rotate(-90) scale(1.1970,1)" font-size="17.8" font-weight="bold" font-style="normal" font-family='"Liberation Serif", serif' stroke="#000" stroke-width="0.4" stroke-linejoin="round">fatty acid(%)</text>
<rect x="698.00" y="770.63" width="33.30" height="170.37" fill="#2563EC" stroke="#0b1d55" stroke-width="1.0"/>
<rect x="731.30" y="739.50" width="33.30" height="201.50" fill="#FF0000" stroke="#4a0008" stroke-width="1.0"/>
<rect x="781.75" y="795.54" width="33.30" height="145.46" fill="#2563EC" stroke="#0b1d55" stroke-width="1.0"/>
<rect x="815.05" y="792.14" width="33.30" height="148.86" fill="#FF0000" stroke="#4a0008" stroke-width="1.0"/>
<rect x="865.50" y="671.11" width="33.30" height="269.89" fill="#2563EC" stroke="#0b1d55" stroke-width="1.0"/>
<rect x="898.80" y="634.38" width="33.30" height="306.62" fill="#FF0000" stroke="#4a0008" stroke-width="1.0"/>
<rect x="949.25" y="908.40" width="33.30" height="32.60" fill="#2563EC" stroke="#0b1d55" stroke-width="1.0"/>
<rect x="982.55" y="910.44" width="33.30" height="30.56" fill="#FF0000" stroke="#4a0008" stroke-width="1.0"/>
<rect x="1033.00" y="800.07" width="33.30" height="140.93" fill="#2563EC" stroke="#0b1d55" stroke-width="1.0"/>
<rect x="1066.30" y="836.86" width="33.30" height="104.14" fill="#FF0000" stroke="#4a0008" stroke-width="1.0"/>
<rect x="864.50" y="706.50" width="68.60" height="7.20" fill="#fff"/>
<line x1="714.65" y1="764.40" x2="714.65" y2="775.40" stroke="#000" stroke-width="1.4" />
<line x1="711.15" y1="764.40" x2="718.15" y2="764.40" stroke="#000" stroke-width="1.4" />
<line x1="711.15" y1="775.40" x2="718.15" y2="775.40" stroke="#000" stroke-width="1.4" />
<line x1="747.95" y1="728.60" x2="747.95" y2="749.50" stroke="#000" stroke-width="1.4" />
<line x1="744.45" y1="728.60" x2="751.45" y2="728.60" stroke="#000" stroke-width="1.4" />
<line x1="744.45" y1="749.50" x2="751.45" y2="749.50" stroke="#000" stroke-width="1.4" />
<line x1="798.40" y1="784.90" x2="798.40" y2="805.60" stroke="#000" stroke-width="1.4" />
<line x1="794.90" y1="784.90" x2="801.90" y2="784.90" stroke="#000" stroke-width="1.4" />
<line x1="794.90" y1="805.60" x2="801.90" y2="805.60" stroke="#000" stroke-width="1.4" />
<line x1="831.70" y1="790.00" x2="831.70" y2="794.40" stroke="#000" stroke-width="1.4" />
<line x1="828.20" y1="790.00" x2="835.20" y2="790.00" stroke="#000" stroke-width="1.4" />
<line x1="828.20" y1="794.40" x2="835.20" y2="794.40" stroke="#000" stroke-width="1.4" />
<line x1="882.15" y1="656.00" x2="882.15" y2="686.60" stroke="#000" stroke-width="1.4" />
<line x1="878.65" y1="656.00" x2="885.65" y2="656.00" stroke="#000" stroke-width="1.4" />
<line x1="878.65" y1="686.60" x2="885.65" y2="686.60" stroke="#000" stroke-width="1.4" />
<line x1="915.45" y1="624.30" x2="915.45" y2="644.90" stroke="#000" stroke-width="1.4" />
<line x1="911.95" y1="624.30" x2="918.95" y2="624.30" stroke="#000" stroke-width="1.4" />
<line x1="911.95" y1="644.90" x2="918.95" y2="644.90" stroke="#000" stroke-width="1.4" />
<line x1="965.90" y1="900.10" x2="965.90" y2="916.40" stroke="#000" stroke-width="1.4" />
<line x1="962.40" y1="900.10" x2="969.40" y2="900.10" stroke="#000" stroke-width="1.4" />
<line x1="962.40" y1="916.40" x2="969.40" y2="916.40" stroke="#000" stroke-width="1.4" />
<line x1="999.20" y1="904.50" x2="999.20" y2="916.40" stroke="#000" stroke-width="1.4" />
<line x1="995.70" y1="904.50" x2="1002.70" y2="904.50" stroke="#000" stroke-width="1.4" />
<line x1="995.70" y1="916.40" x2="1002.70" y2="916.40" stroke="#000" stroke-width="1.4" />
<line x1="1049.65" y1="751.50" x2="1049.65" y2="847.30" stroke="#000" stroke-width="1.4" />
<line x1="1046.15" y1="751.50" x2="1053.15" y2="751.50" stroke="#000" stroke-width="1.4" />
<line x1="1046.15" y1="847.30" x2="1053.15" y2="847.30" stroke="#000" stroke-width="1.4" />
<line x1="1082.95" y1="829.00" x2="1082.95" y2="844.10" stroke="#000" stroke-width="1.4" />
<line x1="1079.45" y1="829.00" x2="1086.45" y2="829.00" stroke="#000" stroke-width="1.4" />
<line x1="1079.45" y1="844.10" x2="1086.45" y2="844.10" stroke="#000" stroke-width="1.4" />
<polyline points="798.20,778.40 798.20,766.20 832.00,766.20 832.00,782.30" fill="none" stroke="#000" stroke-width="1.4" stroke-linejoin="miter"/>
<text x="813.52" y="763.75" font-size="14.22" font-weight="900" font-family="'Noto Serif CJK SC', serif" fill="#000">*</text>
<line x1="689.60" y1="555.80" x2="1108.40" y2="555.80" stroke="#333" stroke-width="1.6" />
<line x1="1107.60" y1="555.80" x2="1107.60" y2="941.00" stroke="#333" stroke-width="1.4" />
<line x1="689.60" y1="555.80" x2="689.60" y2="707.40" stroke="#333" stroke-width="1.4" />
<line x1="689.60" y1="713.00" x2="689.60" y2="941.80" stroke="#333" stroke-width="1.4" />
<line x1="683.20" y1="941.00" x2="1108.40" y2="941.00" stroke="#222" stroke-width="1.6" />
<line x1="683.20" y1="711.00" x2="695.70" y2="704.40" stroke="#000" stroke-width="1.6" />
<line x1="683.20" y1="716.20" x2="695.70" y2="709.90" stroke="#000" stroke-width="1.6" />
<line x1="683.20" y1="683.20" x2="689.60" y2="683.20" stroke="#000" stroke-width="1.6" />
<text transform="translate(659.52,689.80) scale(0.8397,1)" font-size="22.5" font-weight="bold" font-style="normal" font-family='"Liberation Serif", serif' fill="#000" stroke="#000" stroke-width="0.4" stroke-linejoin="round">12</text>
<line x1="683.20" y1="636.70" x2="689.60" y2="636.70" stroke="#000" stroke-width="1.6" />
<text transform="translate(659.04,643.30) scale(0.8403,1)" font-size="22.5" font-weight="bold" font-style="normal" font-family='"Liberation Serif", serif' fill="#000" stroke="#000" stroke-width="0.4" stroke-linejoin="round">14</text>
<line x1="683.20" y1="590.20" x2="689.60" y2="590.20" stroke="#000" stroke-width="1.6" />
<text transform="translate(659.25,596.80) scale(0.8400,1)" font-size="22.5" font-weight="bold" font-style="normal" font-family='"Liberation Serif", serif' fill="#000" stroke="#000" stroke-width="0.4" stroke-linejoin="round">16</text>
<line x1="686.60" y1="659.95" x2="689.60" y2="659.95" stroke="#000" stroke-width="1.6" />
<line x1="686.60" y1="613.45" x2="689.60" y2="613.45" stroke="#000" stroke-width="1.6" />
<line x1="686.60" y1="566.95" x2="689.60" y2="566.95" stroke="#000" stroke-width="1.6" />
<line x1="683.20" y1="941.00" x2="689.60" y2="941.00" stroke="#000" stroke-width="1.6" />
<text transform="translate(669.10,947.60) scale(0.8181,1)" font-size="22.5" font-weight="bold" font-style="normal" font-family='"Liberation Serif", serif' fill="#000" stroke="#000" stroke-width="0.4" stroke-linejoin="round">0</text>
<line x1="683.20" y1="827.80" x2="689.60" y2="827.80" stroke="#000" stroke-width="1.6" />
<text transform="translate(669.20,834.40) scale(0.8172,1)" font-size="22.5" font-weight="bold" font-style="normal" font-family='"Liberation Serif", serif' fill="#000" stroke="#000" stroke-width="0.4" stroke-linejoin="round">2</text>
<line x1="686.60" y1="884.40" x2="689.60" y2="884.40" stroke="#000" stroke-width="1.6" />
<line x1="686.60" y1="771.20" x2="689.60" y2="771.20" stroke="#000" stroke-width="1.6" />
<line x1="731.30" y1="941.00" x2="731.30" y2="947.50" stroke="#000" stroke-width="1.6" />
<line x1="815.05" y1="941.00" x2="815.05" y2="947.50" stroke="#000" stroke-width="1.6" />
<line x1="898.80" y1="941.00" x2="898.80" y2="947.50" stroke="#000" stroke-width="1.6" />
<line x1="982.55" y1="941.00" x2="982.55" y2="947.50" stroke="#000" stroke-width="1.6" />
<line x1="1066.30" y1="941.00" x2="1066.30" y2="947.50" stroke="#000" stroke-width="1.6" />
<text transform="translate(715.28,977.70) scale(0.8097,1)" font-size="22.2" font-weight="bold" font-style="normal" font-family='"Liberation Serif", serif' fill="#000" stroke="#000" stroke-width="0.4" stroke-linejoin="round">LIN</text>
<text transform="translate(796.01,977.70) scale(0.8114,1)" font-size="22.2" font-weight="bold" font-style="normal" font-family='"Liberation Serif", serif' fill="#000" stroke="#000" stroke-width="0.4" stroke-linejoin="round">ALA</text>
<text transform="translate(879.26,977.70) scale(0.8116,1)" font-size="22.2" font-weight="bold" font-style="normal" font-family='"Liberation Serif", serif' fill="#000" stroke="#000" stroke-width="0.4" stroke-linejoin="round">ARA</text>
<text transform="translate(964.46,977.70) scale(0.8109,1)" font-size="22.2" font-weight="bold" font-style="normal" font-family='"Liberation Serif", serif' fill="#000" stroke="#000" stroke-width="0.4" stroke-linejoin="round">EPA</text>
<text transform="translate(1046.18,977.70) scale(0.8118,1)" font-size="22.2" font-weight="bold" font-style="normal" font-family='"Liberation Serif", serif' fill="#000" stroke="#000" stroke-width="0.4" stroke-linejoin="round">DHA</text>
<rect x="983.40" y="563.70" width="42.90" height="23.90" fill="#2563EC" stroke="#1a2a6a" stroke-width="0.9"/>
<rect x="983.40" y="591.20" width="42.90" height="24.00" fill="#FF0000" stroke="#6a0a0a" stroke-width="0.9"/>
<text transform="translate(1032.12,583.00) scale(0.9252,1)" font-size="20.2" font-weight="bold" font-style="normal" font-family='"Liberation Serif", serif' fill="#000" stroke="#000" stroke-width="0.4" stroke-linejoin="round">Ambient</text>
<text transform="translate(1032.64,609.80) scale(0.9132,1)" font-size="20.2" font-weight="bold" font-style="normal" font-family='"Liberation Serif", serif' fill="#000" stroke="#000" stroke-width="0.4" stroke-linejoin="round">Warmed</text>
<text transform="translate(653.00,809.76) rotate(-90) scale(1.2089,1)" font-size="17.8" font-weight="bold" font-style="normal" font-family='"Liberation Serif", serif' stroke="#000" stroke-width="0.4" stroke-linejoin="round">fatty acid(%)</text>
</svg></body></html>
